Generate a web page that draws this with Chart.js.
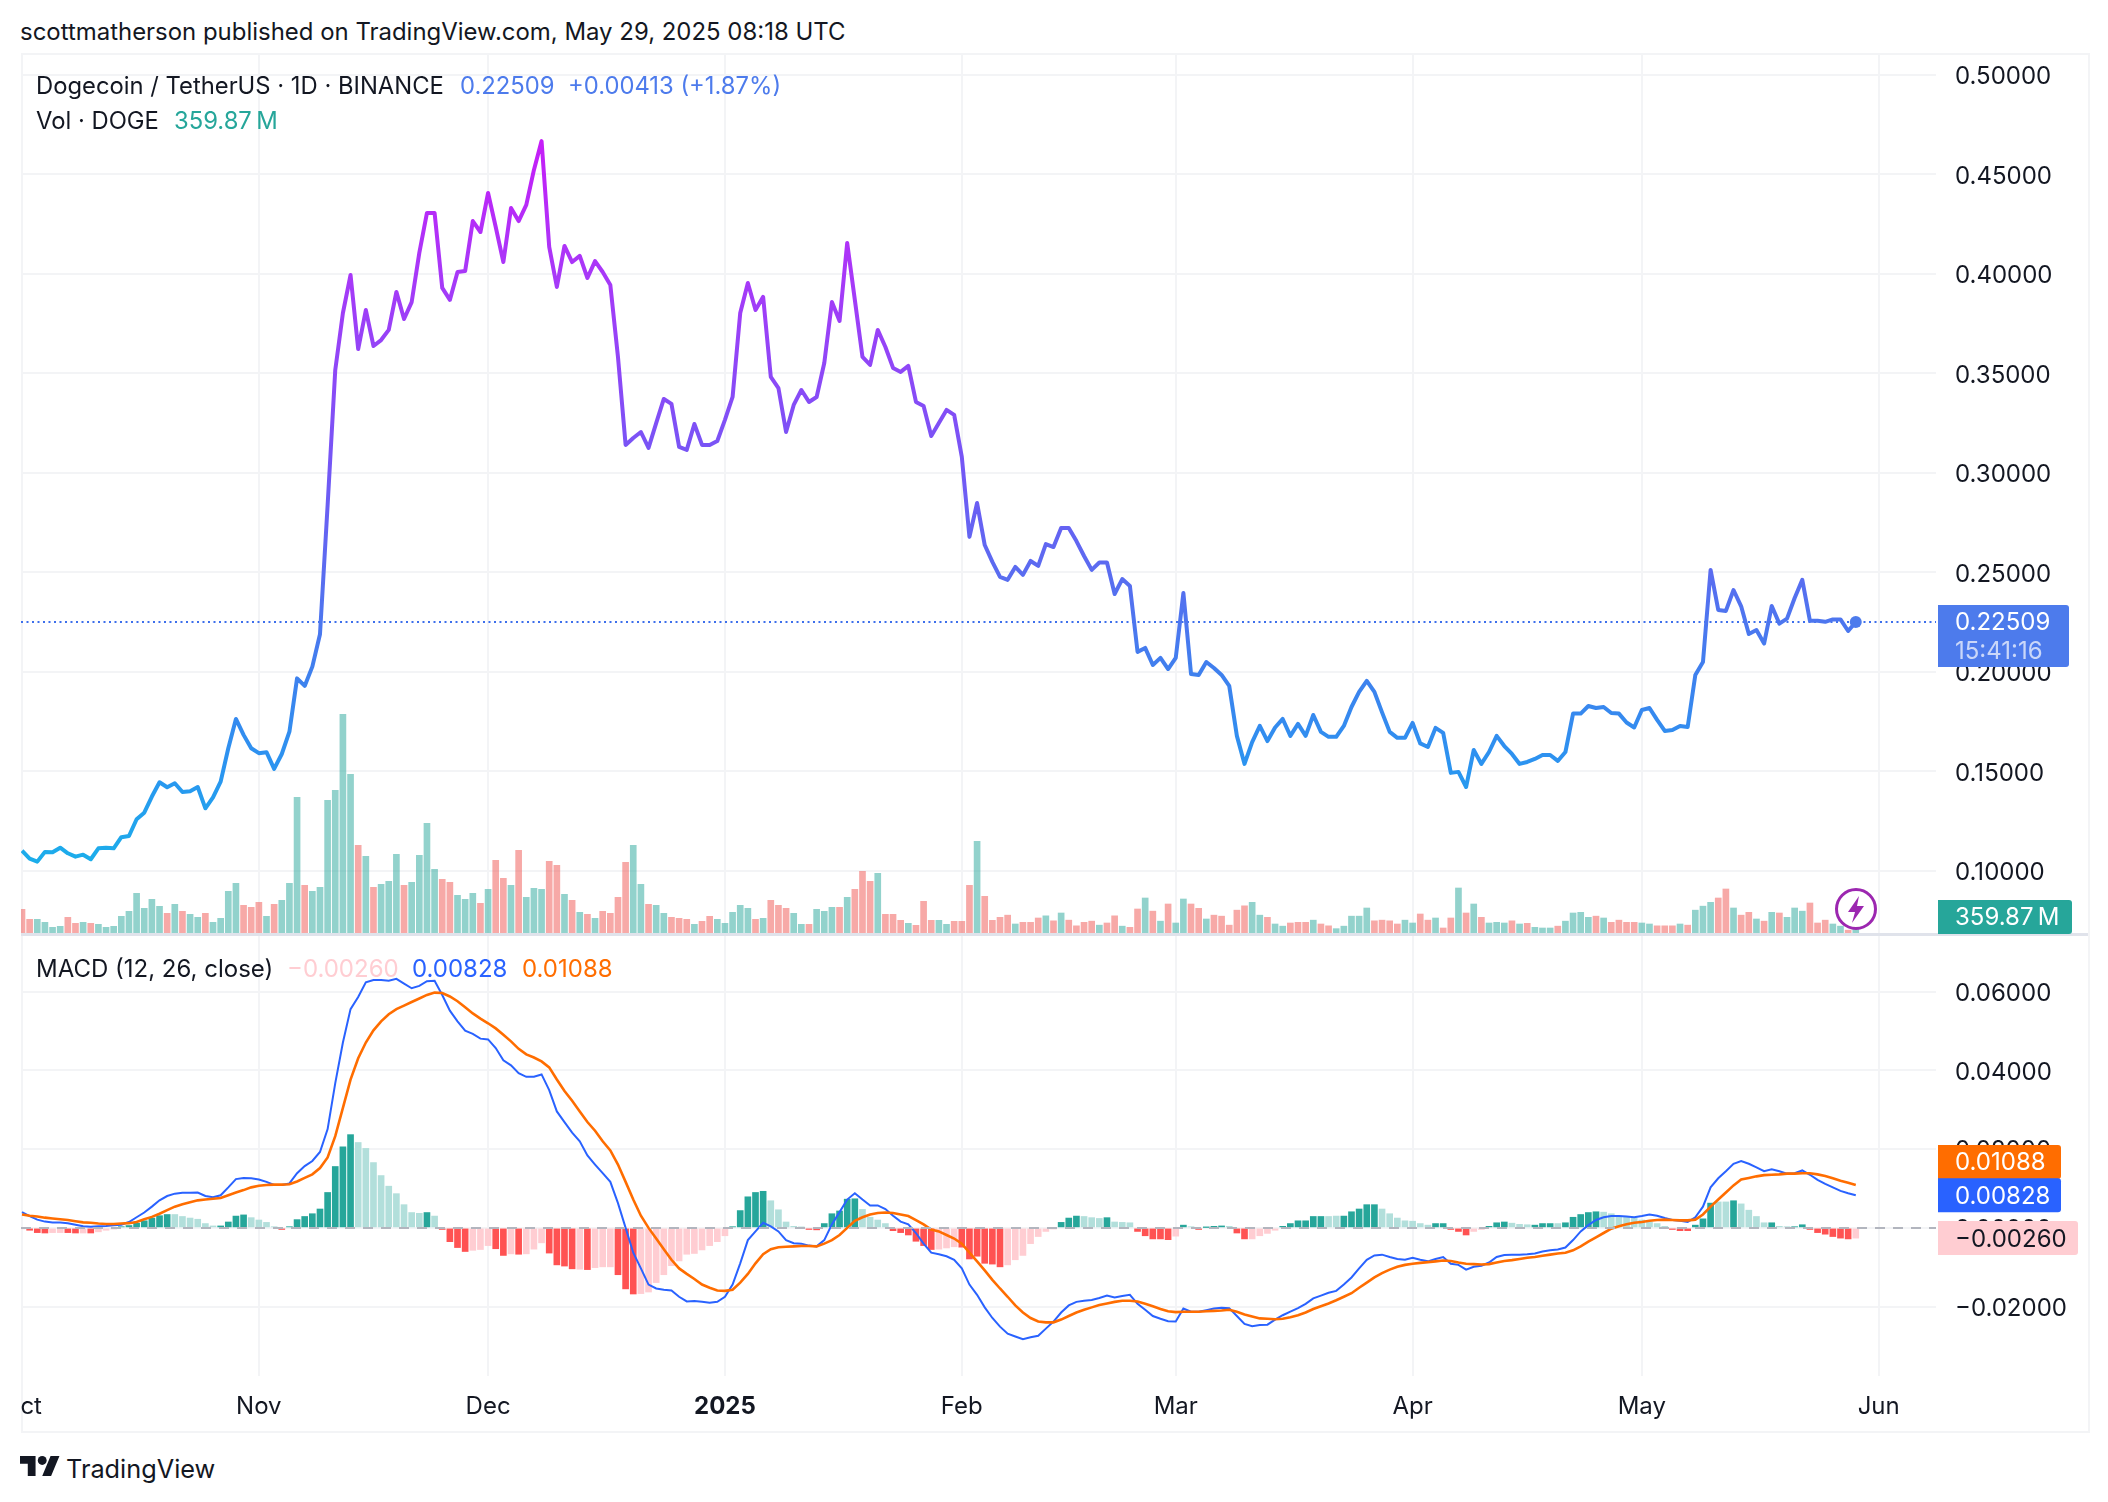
<!DOCTYPE html>
<html>
<head>
<meta charset="utf-8">
<title>Dogecoin / TetherUS</title>
<script src="https://cdn.jsdelivr.net/npm/chart.js@4"></script>
<style>
  html, body { margin: 0; background: #fff; width: 2108px; height: 1502px; overflow: hidden; }
  body { font-family: Inter, "Liberation Sans", sans-serif; color: #131722; }
  .abs { position: absolute; white-space: pre; }
  canvas { position: absolute; left: 21px; }
  .t { font-size: 23.8px; line-height: 30px; }
</style>
</head>
<body>
<div class="abs" id="frame" style="left:21px;top:53px;width:2065px;height:1376px;border:2px solid #f3f4f6;"></div>
<div class="abs" style="left:21px;top:933px;width:2067px;height:3px;background:#e0e3eb;"></div>
<canvas id="priceCanvas" width="2067" height="880" style="top:54px"></canvas>
<canvas id="macdCanvas" width="2067" height="495" style="top:936px"></canvas>

<div class="abs" style="left:20px;top:17px;font-size:23.95px;line-height:30px;">scottmatherson published on TradingView.com, May 29, 2025 08:18 UTC</div>
<div class="abs t" style="left:36px;top:71px;">Dogecoin / TetherUS · 1D · BINANCE</div>
<div class="abs t" style="left:460px;top:71px;color:#4d7bec;">0.22509</div>
<div class="abs t" style="left:568px;top:71px;color:#4d7bec;">+0.00413 (+1.87%)</div>
<div class="abs t" style="left:36px;top:106px;">Vol · DOGE</div>
<div class="abs t" style="left:174px;top:106px;color:#26a69a;">359.87&#8201;M</div>
<div class="abs" style="left:36px;top:954px;font-size:24px;line-height:30px;">MACD (12, 26, close)</div>
<div class="abs" style="left:287px;top:954px;font-size:24px;line-height:30px;color:#ffcdd2;">−0.00260</div>
<div class="abs" style="left:412px;top:954px;font-size:24px;line-height:30px;color:#2962ff;">0.00828</div>
<div class="abs" style="left:522px;top:954px;font-size:24px;line-height:30px;color:#ff6d00;">0.01088</div>

<svg class="abs" style="left:1834px;top:887px;" width="44" height="44" viewBox="0 0 44 44">
  <circle cx="22" cy="22" r="19.5" fill="#fff" stroke="#9c27b0" stroke-width="3"/>
  <path d="M25 9 L14 25 H21 L18 36 L30 19 H23 Z" fill="#9c27b0"/>
</svg>
<svg class="abs" style="left:20px;top:1456px;" width="40" height="20" viewBox="0 0 36 18">
  <path d="M14 18H7V7H0V0h14v18zM28 18h-8L27.5 0h8L28 18z" fill="#131722"/><circle cx="20" cy="4" r="4" fill="#131722"/>
</svg>
<div class="abs" style="left:66px;top:1454px;font-size:25.3px;line-height:30px;">TradingView</div>

<script>
// daily closes, 1 Oct 2024 to 29 May 2025
const priceClose = [
  .1102,.1062,.1047,.1096,.1094,.1117,.1089,.1072,.1082,.1059,
  .1114,.1117,.1114,.1170,.1176,.1260,.1293,.1374,.1446,.1421,
  .1441,.1397,.1401,.1422,.1315,.1370,.1449,.1617,.1764,.1684,
  .1617,.1592,.1597,.1513,.1588,.1700,.1968,.1930,.2027,.2190,
  .2839,.3518,.3804,.3995,.3623,.3819,.3638,.3668,.3719,.3910,
  .3774,.3859,.4106,.4307,.4307,.3930,.3870,.4010,.4015,.4266,
  .4211,.4407,.4236,.4060,.4332,.4266,.4347,.4523,.4668,.4136,
  .3935,.4141,.4060,.4091,.3980,.4065,.4010,.3945,.3583,.3141,
  .3176,.3206,.3126,.3251,.3372,.3347,.3131,.3116,.3246,.3141,
  .3141,.3161,.3267,.3382,.3804,.3955,.3819,.3885,.3483,.3427,
  .3206,.3342,.3417,.3357,.3382,.3553,.3859,.3764,.4156,.3870,
  .3583,.3543,.3719,.3633,.3528,.3508,.3538,.3357,.3337,.3186,
  .3251,.3317,.3292,.3081,.2679,.2849,.2638,.2553,.2478,.2463,
  .2528,.2488,.2558,.2533,.2643,.2628,.2724,.2724,.2658,.2583,
  .2513,.2550,.2550,.2392,.2467,.2432,.2101,.2121,.2035,.2071,
  .2015,.2071,.2397,.1990,.1985,.2050,.2020,.1985,.1930,.1679,
  .1538,.1648,.1729,.1653,.1721,.1764,.1679,.1739,.1679,.1784,
  .1699,.1674,.1674,.1729,.1824,.1900,.1955,.1900,.1797,.1699,
  .1669,.1669,.1744,.1641,.1623,.1719,.1694,.1493,.1498,.1422,
  .1608,.1538,.1598,.1679,.1628,.1588,.1538,.1548,.1563,.1583,
  .1583,.1553,.1598,.1791,.1791,.1829,.1819,.1824,.1794,.1791,
  .1746,.1721,.1809,.1819,.1759,.1704,.1709,.1729,.1724,.1985,
  .2050,.2513,.2312,.2307,.2412,.2330,.2191,.2211,.2143,.2332,
  .2243,.2268,.2372,.2463,.2257,.2257,.2252,.2264,.2264,.2206,.22509
];
// volume in millions of DOGE
const volume = [
  1420,820,820,640,340,400,940,580,640,580,
  520,340,400,1000,1300,2380,1480,2020,1600,1180,
  1720,1300,1120,940,1180,640,880,2500,2980,1660,
  1540,1840,1000,1720,1960,2980,8140,2860,2500,2740,
  7960,8560,13120,9520,5260,4600,2740,2920,3100,4720,
  2860,3040,4660,6580,3820,3220,3040,2260,2020,2380,
  1780,2620,4360,3280,2860,4960,2140,2680,2620,4300,
  4060,2320,1960,1240,1120,880,1300,1180,2140,4240,
  5260,2920,1720,1660,1180,940,880,820,520,700,
  1000,820,580,1240,1660,1480,820,880,1960,1660,
  1480,1180,520,520,1420,1300,1540,1540,2140,2620,
  3700,3100,3580,1120,1120,760,580,460,1900,760,
  760,520,700,700,2860,5500,2200,760,940,1070,
  540,640,640,900,1030,730,1200,770,430,640,
  710,470,600,1030,410,340,1440,2100,1310,710,
  1740,600,2040,1740,1480,840,1070,1010,470,1370,
  1630,1840,1070,940,540,410,600,640,640,770,
  540,430,260,410,1010,1010,1500,730,770,730,
  540,770,600,1140,770,900,300,900,2700,1200,
  1740,940,600,640,600,730,540,580,340,300,
  300,410,710,1200,1240,940,1010,900,640,770,
  640,640,600,540,430,430,430,540,470,1370,
  1610,1840,2100,2640,1500,1070,1240,840,710,1240,
  1200,940,1500,1310,1800,600,770,540,410,170,359.87
];
// t = up day, r = down day
const volumeDir = ('rrttttrrtr' + 'tttttttttr' + 'trttrttttr' + 'rrtrtttrtt' + 'ttttrtrttt' + 'rttttrrttt' +
  'rtrrtrtttr' + 'rtrtrtrrrr' + 'ttrttrrrtr' + 'rtttttrtrr' + 'rttrtttrtr' + 'rrtrrrtrrr' + 'ttrrrtrrrr' +
  'trrrtrtrrr' + 'rtrrtrrtrt' + 'rttrrtrrrr' + 'rttrttrrrt' + 'rrtttttrrr' + 'rttrrtrrtr' + 'trtttrtrtt' +
  'trttttrtrr' + 'rrttrrrtrt' + 'ttrrtrrtrt' + 'rtttrrrttrt').split('');

const macdLine = [
  .0040,.0030,.0021,.0016,.0014,.0014,.0012,.0008,.0004,.0003,
  .0004,.0005,.0007,.0008,.0015,.0027,.0039,.0054,.0070,.0081,
  .0087,.0089,.0089,.0090,.0081,.0078,.0083,.0103,.0124,.0127,
  .0126,.0123,.0117,.0109,.0109,.0113,.0139,.0157,.0170,.0193,
  .0251,.0368,.0471,.0556,.0587,.0624,.0630,.0630,.0628,.0633,
  .0621,.0609,.0615,.0627,.0628,.0592,.0552,.0525,.0501,.0493,
  .0481,.0479,.0457,.0426,.0413,.0393,.0384,.0384,.0390,.0350,
  .0296,.0269,.0242,.0220,.0184,.0161,.0139,.0117,.0063,0,
  -.0063,-.0103,-.0144,-.0154,-.0157,-.0159,-.0175,-.0187,-.0186,-.0188,
  -.0190,-.0188,-.0175,-.0144,-.0090,-.0031,-.0009,.0013,.0004,-.0009,
  -.0031,-.0039,-.0040,-.0045,-.0047,-.0031,.0009,.0040,.0072,.0088,
  .0072,.0057,.0057,.0048,.0031,.0016,.0009,-.0013,-.0040,-.0063,
  -.0067,-.0072,-.0081,-.0103,-.0144,-.0170,-.0202,-.0229,-.0251,-.0269,
  -.0276,-.0283,-.0278,-.0274,-.0256,-.0238,-.0215,-.0197,-.0188,-.0185,
  -.0183,-.0178,-.0172,-.0177,-.0173,-.0170,-.0193,-.0208,-.0224,-.0231,
  -.0237,-.0238,-.0205,-.0213,-.0213,-.0209,-.0205,-.0203,-.0204,-.0224,
  -.0244,-.0250,-.0247,-.0246,-.0233,-.0222,-.0213,-.0204,-.0193,-.0179,
  -.0172,-.0165,-.0160,-.0144,-.0126,-.0103,-.0081,-.0070,-.0068,-.0074,
  -.0079,-.0081,-.0076,-.0081,-.0085,-.0079,-.0074,-.0091,-.0094,-.0106,
  -.0099,-.0096,-.0088,-.0074,-.0069,-.0068,-.0068,-.0067,-.0065,-.0060,
  -.0057,-.0055,-.0050,-.0031,-.0009,.0007,.0020,.0027,.0030,.0030,
  .0029,.0027,.0030,.0034,.0031,.0025,.0020,.0018,.0015,.0027,
  .0054,.0103,.0126,.0144,.0163,.0170,.0163,.0154,.0144,.0149,
  .0144,.0138,.0139,.0146,.0135,.0122,.0112,.0103,.0094,.0088,.00828
];
const signalLine = [
  .0034,.0031,.0029,.0026,.0024,.0022,.0020,.0017,.0014,.0013,
  .0011,.0010,.0010,.0011,.0012,.0015,.0022,.0028,.0036,.0045,
  .0054,.0060,.0065,.0070,.0072,.0074,.0076,.0083,.0090,.0096,
  .0103,.0107,.0109,.0110,.0110,.0111,.0118,.0127,.0136,.0152,
  .0179,.0233,.0305,.0377,.0431,.0471,.0502,.0525,.0543,.0556,
  .0565,.0574,.0583,.0592,.0598,.0597,.0588,.0576,.0561,.0545,
  .0532,.0520,.0507,.0491,.0474,.0455,.0441,.0433,.0423,.0408,
  .0377,.0348,.0323,.0296,.0269,.0247,.0220,.0197,.0161,.0117,
  .0072,.0031,0,-.0027,-.0054,-.0081,-.0103,-.0117,-.0130,-.0144,
  -.0152,-.0159,-.0160,-.0157,-.0139,-.0117,-.0090,-.0067,-.0054,-.0049,
  -.0048,-.0047,-.0046,-.0046,-.0047,-.0040,-.0031,-.0018,0,.0018,
  .0027,.0034,.0038,.0039,.0038,.0034,.0030,.0020,.0009,-.0004,
  -.0009,-.0018,-.0027,-.0040,-.0063,-.0085,-.0108,-.0132,-.0154,-.0175,
  -.0197,-.0215,-.0229,-.0238,-.0240,-.0240,-.0233,-.0224,-.0215,-.0208,
  -.0202,-.0196,-.0192,-.0188,-.0185,-.0185,-.0187,-.0193,-.0199,-.0206,
  -.0212,-.0214,-.0213,-.0213,-.0213,-.0212,-.0211,-.0210,-.0208,-.0213,
  -.0220,-.0225,-.0230,-.0231,-.0232,-.0231,-.0227,-.0222,-.0215,-.0206,
  -.0199,-.0192,-.0184,-.0175,-.0166,-.0152,-.0139,-.0126,-.0115,-.0106,
  -.0099,-.0094,-.0091,-.0089,-.0087,-.0085,-.0083,-.0084,-.0088,-.0091,
  -.0092,-.0093,-.0092,-.0088,-.0084,-.0082,-.0079,-.0076,-.0074,-.0071,
  -.0068,-.0065,-.0063,-.0057,-.0047,-.0035,-.0024,-.0013,-.0002,.0004,
  .0009,.0013,.0015,.0018,.0020,.0021,.0020,.0019,.0019,.0021,
  .0034,.0054,.0072,.0090,.0108,.0123,.0127,.0131,.0134,.0135,
  .0136,.0138,.0138,.0139,.0139,.0136,.0132,.0126,.0120,.0115,.01088
];
const histogram = [
  -.0002,-.0006,-.0012,-.0013,-.0012,-.0012,-.0012,-.0013,-.0013,-.0013,
  -.0010,-.0006,-.0003,.0003,.0006,.0012,.0018,.0025,.0031,.0034,
  .0034,.0029,.0025,.0022,.0011,.0005,.0005,.0015,.0030,.0033,
  .0026,.0020,.0014,.0003,-.0004,.0003,.0021,.0029,.0036,.0048,
  .0090,.0156,.0206,.0237,.0217,.0202,.0166,.0133,.0106,.0087,
  .0059,.0039,.0037,.0039,.0030,-.0004,-.0035,-.0050,-.0060,-.0057,
  -.0055,-.0045,-.0053,-.0070,-.0066,-.0067,-.0066,-.0054,-.0038,-.0064,
  -.0094,-.0097,-.0104,-.0105,-.0106,-.0101,-.0099,-.0099,-.0119,-.0155,
  -.0168,-.0167,-.0163,-.0139,-.0119,-.0096,-.0084,-.0067,-.0065,-.0056,
  -.0045,-.0035,-.0020,.0003,.0044,.0079,.0090,.0093,.0069,.0046,
  .0015,.0004,.0002,-.0004,-.0005,.0011,.0036,.0043,.0073,.0074,
  .0047,.0027,.0020,.0011,-.0007,-.0012,-.0018,-.0034,-.0045,-.0055,
  -.0054,-.0051,-.0048,-.0049,-.0079,-.0072,-.0090,-.0092,-.0099,-.0094,
  -.0081,-.0070,-.0040,-.0022,-.0009,-.0003,.0014,.0025,.0030,.0029,
  .0026,.0024,.0026,.0015,.0014,.0013,-.0009,-.0020,-.0028,-.0028,
  -.0030,-.0021,.0007,.0003,-.0004,.0001,.0004,.0005,.0004,-.0013,
  -.0028,-.0028,-.0020,-.0014,-.0006,.0004,.0011,.0018,.0018,.0029,
  .0029,.0029,.0030,.0030,.0041,.0048,.0059,.0059,.0048,.0036,
  .0025,.0018,.0017,.0011,.0007,.0011,.0011,-.0004,-.0009,-.0018,
  -.0009,-.0004,.0004,.0013,.0015,.0012,.0009,.0008,.0007,.0011,
  .0011,.0011,.0013,.0027,.0034,.0039,.0041,.0040,.0036,.0030,
  .0027,.0025,.0020,.0015,.0011,.0004,-.0004,-.0007,-.0007,.0007,
  .0023,.0063,.0066,.0066,.0069,.0061,.0045,.0029,.0013,.0013,
  .0004,.0003,.0003,.0008,-.0004,-.0012,-.0016,-.0022,-.0026,-.0028,-.0026
];
// G rising above zero, g falling above zero, R falling below zero, r rising below zero
const histogramState = ('rRRRrrRRrR' + 'rrrGGGGGGG' + 'ggggggGGGG' + 'ggggRGGGGG' + 'GGGGgggggg' + 'gggGgRRRRr' +
  'rrRRrRrrrR' + 'RRRrRrrrRR' + 'Rrrrrrrrrr' + 'rrrGGGGGgg' + 'gggRRGGGGG' + 'ggggRRRRRR' + 'rrrRRRRRRr' +
  'rrrrrrGGGg' + 'ggGgggRRRR' + 'RrGgRGGGgR' + 'RrrrrGGGGG' + 'GggGGGGGgg' + 'gggggGGRRR' + 'rrGGGgggGG' +
  'GgGGGGGggg' + 'ggggggRRRG' + 'GGggGggggG' + 'ggGGRRRRRRr').split('');

const tickDays = [0, 31, 61, 92, 123, 151, 182, 212, 243];
const tickLabels = ['Oct', 'Nov', 'Dec', '2025', 'Feb', 'Mar', 'Apr', 'May', 'Jun'];
const lastPrice = 0.22509, lastMacd = 0.00828, lastSignal = 0.01088, lastHist = -0.0026;

const FONT = 'Inter, "Liberation Sans", sans-serif';
const GRID = '#f3f4f6';
const volColors = { t: 'rgba(38,166,154,0.5)', r: 'rgba(239,83,80,0.5)' };
const histColors = { G: '#26a69a', g: '#b2dfdb', R: '#ff5252', r: '#ffcdd2' };

const toXY = arr => arr.map((v, i) => ({ x: i, y: v }));
const fmt = v => v.toFixed(5).replace('-', '−');

function dayAxis(showTicks) {
  return {
    type: 'linear', min: -0.13, max: 250.5, offset: false,
    border: { display: false },
    grid: { color: GRID, lineWidth: 2, drawTicks: false, offset: false },
    afterBuildTicks: s => { s.ticks = tickDays.map(v => ({ value: v })); },
    afterFit: s => { s.height = showTicks ? 55 : 1; s.paddingLeft = 0; s.paddingRight = 0; },
    ticks: {
      display: showTicks, autoSkip: false, maxRotation: 0, padding: 16, color: '#131722',
      font: c => ({ family: FONT, size: 24, weight: c.tick && c.tick.value === 92 ? 'bold' : 'normal' }),
      callback: v => tickLabels[tickDays.indexOf(v)]
    }
  };
}
function valueAxis(min, max, step) {
  return {
    position: 'right', min, max,
    border: { display: false },
    grid: { color: GRID, lineWidth: 2, drawTicks: false },
    afterFit: s => { s.width = 152; s.paddingTop = 0; s.paddingBottom = 0; },
    ticks: { display: false, stepSize: step, includeBounds: false }
  };
}
// tick labels are drawn here so they sit on their gridlines
function drawValueLabels(chart) {
  const { ctx, chartArea, scales } = chart;
  ctx.save();
  ctx.font = '24px ' + FONT;
  ctx.textBaseline = 'middle';
  ctx.fillStyle = '#131722';
  scales.y.ticks.forEach(t => {
    ctx.fillText(fmt(t.value), chartArea.right + 19, scales.y.getPixelForValue(t.value) + 2);
  });
  ctx.restore();
}
function box(ctx, x, y, w, h, bg) {
  ctx.fillStyle = bg;
  ctx.beginPath();
  ctx.roundRect(x, y, w, h, [0, 3, 3, 0]);
  ctx.fill();
}
function label(ctx, text, x, y, color) {
  ctx.fillStyle = color;
  ctx.fillText(text, x, y);
}

const priceExtras = {
  id: 'priceExtras',
  beforeDatasetsDraw(chart) {
    const { ctx, chartArea, scales } = chart;
    const y = scales.y.getPixelForValue(lastPrice);
    ctx.save();
    ctx.strokeStyle = '#3d6fec';
    ctx.lineWidth = 2;
    ctx.setLineDash([2, 3.5]);
    ctx.beginPath();
    ctx.moveTo(chartArea.left, y);
    ctx.lineTo(chartArea.right, y);
    ctx.stroke();
    ctx.restore();
  },
  afterDraw(chart) {
    drawValueLabels(chart);
    const { ctx, chartArea, scales } = chart;
    const x = chartArea.right + 2;
    const y = scales.y.getPixelForValue(lastPrice);
    ctx.save();
    ctx.font = '24px ' + FONT;
    ctx.textBaseline = 'middle';
    box(ctx, x, y - 17, 131, 62, '#4d7bec');
    label(ctx, fmt(lastPrice), x + 17, y + 1, '#ffffff');
    label(ctx, '15:41:16', x + 17, y + 30, 'rgba(255,255,255,0.7)');
    box(ctx, x, chartArea.bottom - 33, 134, 34, '#26a69a');
    label(ctx, '359.87\u2009M', x + 17, chartArea.bottom - 15, '#ffffff');
    ctx.restore();
  }
};
const macdExtras = {
  id: 'macdExtras',
  afterDatasetsDraw(chart) {
    const { ctx, chartArea, scales } = chart;
    const y = scales.y.getPixelForValue(0);
    ctx.save();
    ctx.strokeStyle = '#b2b5be';
    ctx.lineWidth = 2;
    ctx.setLineDash([10, 8]);
    ctx.beginPath();
    ctx.moveTo(chartArea.left, y);
    ctx.lineTo(chartArea.right, y);
    ctx.stroke();
    ctx.restore();
  },
  afterDraw(chart) {
    drawValueLabels(chart);
    const { ctx, chartArea, scales } = chart;
    const x = chartArea.right + 2;
    const yOf = v => scales.y.getPixelForValue(v);
    ctx.save();
    ctx.font = '24px ' + FONT;
    ctx.textBaseline = 'middle';
    box(ctx, x, yOf(lastSignal) - 40, 123, 34, '#ff6d00');
    label(ctx, fmt(lastSignal), x + 17, yOf(lastSignal) - 22, '#ffffff');
    box(ctx, x, yOf(lastMacd) - 17, 123, 34, '#2962ff');
    label(ctx, fmt(lastMacd), x + 17, yOf(lastMacd) + 1, '#ffffff');
    box(ctx, x, yOf(lastHist) - 17, 140, 34, '#ffcdd2');
    label(ctx, fmt(lastHist), x + 17, yOf(lastHist) + 2, '#131722');
    ctx.restore();
  }
};

let priceGradient = null;
function lineGradient(c) {
  const chart = c.chart;
  if (!chart.chartArea) return '#4d7bec';
  if (!priceGradient) {
    const g = chart.ctx.createLinearGradient(0, chart.scales.y.getPixelForValue(0.47), 0, chart.scales.y.getPixelForValue(0.10));
    g.addColorStop(0, '#c71cf8');
    g.addColorStop(0.19, '#a838f8');
    g.addColorStop(0.46, '#7258f5');
    g.addColorStop(0.595, '#5a6cf0');
    g.addColorStop(0.73, '#3f80ee');
    g.addColorStop(0.865, '#2a95f0');
    g.addColorStop(1, '#1ab0ea');
    priceGradient = g;
  }
  return priceGradient;
}

new Chart(document.getElementById('priceCanvas'), {
  data: {
    datasets: [
      {
        type: 'line', yAxisID: 'y', order: 1,
        data: toXY(priceClose),
        borderColor: lineGradient, borderWidth: 4, tension: 0,
        borderJoinStyle: 'round',
        pointRadius: c => (c.dataIndex === priceClose.length - 1 ? 6 : 0),
        pointBackgroundColor: '#4d7bec', pointBorderWidth: 0
      },
      {
        type: 'bar', yAxisID: 'yVol', order: 2,
        data: toXY(volume),
        backgroundColor: volumeDir.map(d => volColors[d]),
        barThickness: 6, borderWidth: 0
      }
    ]
  },
  options: {
    responsive: false, animation: false, events: [],
    layout: { autoPadding: false, padding: 0 },
    plugins: { legend: { display: false }, tooltip: { enabled: false } },
    scales: {
      x: dayAxis(false),
      y: valueAxis(0.06884, 0.51055, 0.05),
      yVol: { display: false, min: 0, max: 52740 }
    }
  },
  plugins: [priceExtras]
});

new Chart(document.getElementById('macdCanvas'), {
  data: {
    datasets: [
      {
        type: 'line', order: 1, data: toXY(signalLine),
        borderColor: '#ff6d00', borderWidth: 2.6, pointRadius: 0, tension: 0
      },
      {
        type: 'line', order: 2, data: toXY(macdLine),
        borderColor: '#2962ff', borderWidth: 2, pointRadius: 0, tension: 0
      },
      {
        type: 'bar', order: 3, data: toXY(histogram),
        backgroundColor: histogramState.map(s => histColors[s]),
        barThickness: 6, borderWidth: 0
      }
    ]
  },
  options: {
    responsive: false, animation: false, events: [],
    layout: { autoPadding: false, padding: 0 },
    plugins: { legend: { display: false }, tooltip: { enabled: false } },
    scales: {
      x: dayAxis(true),
      y: valueAxis(-0.03764, 0.07418, 0.02)
    }
  },
  plugins: [macdExtras]
});
</script>
</body>
</html>
